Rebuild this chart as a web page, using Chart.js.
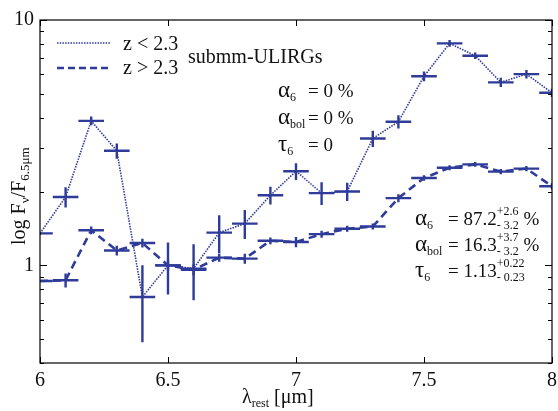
<!DOCTYPE html>
<html>
<head>
<meta charset="utf-8">
<script src="https://cdn.jsdelivr.net/npm/chart.js@4.4.1/dist/chart.umd.min.js"></script>
<style>
  html, body { margin: 0; padding: 0; background: #fff; }
</style>
</head>
<body>
<canvas id="chart" width="558" height="411"></canvas>
<script>
// wavelength bins (micron)
const wavelengths = [6.0, 6.1, 6.2, 6.3, 6.4, 6.5, 6.6, 6.7, 6.8, 6.9, 7.0, 7.1, 7.2, 7.3, 7.4, 7.5, 7.6, 7.7, 7.8, 7.9, 8.0];
// z < 2.3 (dotted)
const lowZ    = [1.35, 1.90, 3.88, 2.93, 0.743, 1.00, 0.97, 1.36, 1.48, 1.93, 2.42, 1.97, 2.00, 3.29, 3.85, 5.90, 8.03, 7.15, 5.57, 6.02, 5.05];
const lowZErr = [0.02, 0.18, 0.16, 0.21, 0.257, 0.24, 0.25, 0.24, 0.20, 0.16, 0.19, 0.21, 0.17, 0.25, 0.24, 0.27, 0.25, 0.22, 0.24, 0.24, 0.20];
// z > 2.3 (dashed)
const highZ    = [0.863, 0.87, 1.39, 1.15, 1.233, 1.00, 0.96, 1.075, 1.065, 1.26, 1.245, 1.34, 1.41, 1.44, 1.88, 2.27, 2.50, 2.58, 2.41, 2.48, 2.10];
const highZErr = [0.01, 0.057, 0.05, 0.053, 0.05, 0.05, 0.05, 0.04, 0.05, 0.04, 0.06, 0.045, 0.04, 0.04, 0.07, 0.06, 0.06, 0.06, 0.06, 0.06, 0.06];
const binHalfWidth = 0.05;

const xTicks = [6, 6.5, 7, 7.5, 8];
const yTicks = [0.4, 0.5, 0.6, 0.7, 0.8, 0.9, 1, 2, 3, 4, 5, 6, 7, 8, 9, 10];
const yLabelled = [1, 10];

const blue = '#2e3b98';
const serif = '"Liberation Serif", "DejaVu Serif", serif';

function toPoints(ys) {
  return wavelengths.map((x, i) => ({ x: x, y: ys[i] }));
}

// draw a run of text pieces: {t, s, dy} or a stacked sup/sub pair {sup, sub}
function drawRich(ctx, x, y, parts) {
  parts.forEach(p => {
    if (p.at !== undefined) x = p.at;
    if (p.sup !== undefined) {
      ctx.font = '12px ' + serif;
      ctx.fillText(p.sup, x, y - 10);
      ctx.fillText(p.sub, x, y + 4);
      x += Math.max(ctx.measureText(p.sup).width, ctx.measureText(p.sub).width);
    } else {
      ctx.font = (p.s || 19) + 'px ' + serif;
      ctx.fillText(p.t, x, y + (p.dy || 0));
      x += ctx.measureText(p.t).width;
    }
  });
  return x;
}

const decorations = {
  id: 'decorations',
  afterDatasetsDraw(chart) {
    const ctx = chart.ctx;
    const xs = chart.scales.x, ys = chart.scales.y;
    const series = [[lowZ, lowZErr], [highZ, highZErr]];
    ctx.save();
    ctx.strokeStyle = blue;
    ctx.lineWidth = 2.4;
    const a = chart.chartArea;
    ctx.beginPath();
    ctx.rect(a.left, a.top, a.right - a.left, a.bottom - a.top);
    ctx.clip();
    series.forEach(([vals, errs]) => {
      vals.forEach((v, i) => {
        const w = wavelengths[i];
        const px = xs.getPixelForValue(w);
        const py = ys.getPixelForValue(v);
        ctx.beginPath();
        ctx.moveTo(xs.getPixelForValue(w - binHalfWidth), py);
        ctx.lineTo(xs.getPixelForValue(w + binHalfWidth), py);
        ctx.moveTo(px, ys.getPixelForValue(v + errs[i]));
        ctx.lineTo(px, ys.getPixelForValue(Math.max(v - errs[i], 0.01)));
        ctx.stroke();
      });
    });
    ctx.restore();
  },
  afterDraw(chart) {
    const ctx = chart.ctx;
    const a = chart.chartArea;
    const xs = chart.scales.x, ys = chart.scales.y;
    ctx.save();
    // frame
    ctx.strokeStyle = '#000';
    ctx.lineWidth = 1.2;
    ctx.strokeRect(a.left, a.top, a.right - a.left, a.bottom - a.top);
    // inward ticks
    ctx.lineWidth = 1;
    ctx.beginPath();
    xTicks.forEach(v => {
      const px = Math.round(xs.getPixelForValue(v)) + 0.5;
      ctx.moveTo(px, a.bottom); ctx.lineTo(px, a.bottom - 6);
      ctx.moveTo(px, a.top); ctx.lineTo(px, a.top + 6);
    });
    yTicks.forEach(v => {
      const py = Math.round(ys.getPixelForValue(v)) + 0.5;
      const len = yLabelled.includes(v) ? 7 : 4;
      ctx.moveTo(a.left, py); ctx.lineTo(a.left + len, py);
      ctx.moveTo(a.right, py); ctx.lineTo(a.right - len, py);
    });
    ctx.stroke();

    // legend
    ctx.strokeStyle = blue;
    ctx.lineWidth = 1.6;
    ctx.setLineDash([1.5, 1.2]);
    ctx.beginPath(); ctx.moveTo(57, 43); ctx.lineTo(110, 43); ctx.stroke();
    ctx.lineWidth = 2.6;
    ctx.setLineDash([7, 4]);
    ctx.beginPath(); ctx.moveTo(57, 68); ctx.lineTo(110, 68); ctx.stroke();
    ctx.setLineDash([]);

    ctx.fillStyle = '#111';
    ctx.textBaseline = 'alphabetic';
    ctx.textAlign = 'left';
    ctx.font = '20px ' + serif;
    ctx.fillText('z < 2.3', 123, 50);
    ctx.fillText('z > 2.3', 123, 74);
    ctx.fillText('submm-ULIRGs', 188, 63);

    // parameters, upper block
    drawRich(ctx, 278, 97, [{ t: 'α', s: 23 }, { t: '6', s: 12, dy: 4 }, { at: 308, t: '= 0 %' }]);
    drawRich(ctx, 278, 124, [{ t: 'α', s: 23 }, { t: 'bol', s: 12, dy: 4 }, { at: 308, t: '= 0 %' }]);
    drawRich(ctx, 278, 151, [{ t: 'τ', s: 23 }, { t: '6', s: 12, dy: 4 }, { at: 308, t: '= 0' }]);

    // parameters, lower block
    drawRich(ctx, 415, 225, [{ t: 'α', s: 23 }, { t: '6', s: 12, dy: 4 }, { at: 448, t: '= 87.2' }, { sup: '+2.6', sub: '- 3.2' }, { t: ' %' }]);
    drawRich(ctx, 415, 251, [{ t: 'α', s: 23 }, { t: 'bol', s: 12, dy: 4 }, { at: 448, t: '= 16.3' }, { sup: '+3.7', sub: '- 3.2' }, { t: ' %' }]);
    drawRich(ctx, 415, 277, [{ t: 'τ', s: 23 }, { t: '6', s: 12, dy: 4 }, { at: 448, t: '= 1.13' }, { sup: '+0.22', sub: '- 0.23' }]);

    // axis titles
    drawRich(ctx, 242, 403, [{ t: 'λ', s: 20 }, { t: 'rest', s: 12, dy: 4 }, { t: ' [μm]', s: 20 }]);

    ctx.translate(25, 245);
    ctx.rotate(-Math.PI / 2);
    drawRich(ctx, 0, 0, [{ t: 'log F', s: 20 }, { t: 'ν', s: 13, dy: 4 }, { t: '/F', s: 20 }, { t: '6.5μm', s: 13, dy: 4 }]);
    ctx.restore();
  }
};

const ctx = document.getElementById('chart').getContext('2d');
new Chart(ctx, {
  type: 'line',
  data: {
    datasets: [
      {
        label: 'z < 2.3',
        data: toPoints(lowZ),
        borderColor: blue,
        borderWidth: 1.6,
        borderDash: [1.5, 1.2],
        pointRadius: 0,
        tension: 0
      },
      {
        label: 'z > 2.3',
        data: toPoints(highZ),
        borderColor: blue,
        borderWidth: 2.6,
        borderDash: [8, 5],
        pointRadius: 0,
        tension: 0
      }
    ]
  },
  options: {
    responsive: false,
    animation: false,
    devicePixelRatio: 1,
    layout: { padding: { top: 20, right: 6, left: 0, bottom: 0 } },
    plugins: { legend: { display: false }, tooltip: { enabled: false } },
    scales: {
      x: {
        type: 'linear',
        min: 6,
        max: 8,
        afterBuildTicks: scale => { scale.ticks = xTicks.map(v => ({ value: v })); },
        afterFit: scale => { scale.height = 48; scale.paddingLeft = 0; scale.paddingRight = 0; },
        grid: { display: false, drawTicks: false },
        border: { display: false },
        ticks: {
          color: '#111',
          font: { family: serif, size: 20 },
          padding: 6,
          maxRotation: 0,
          autoSkip: false,
          callback: v => String(v)
        }
      },
      y: {
        type: 'logarithmic',
        min: 0.4,
        max: 10,
        afterBuildTicks: scale => { scale.ticks = yTicks.map(v => ({ value: v })); },
        afterFit: scale => { scale.width = 40; scale.paddingTop = 0; scale.paddingBottom = 0; },
        grid: { display: false, drawTicks: false },
        border: { display: false },
        ticks: {
          color: '#111',
          font: { family: serif, size: 20 },
          padding: 6,
          autoSkip: false,
          callback: v => yLabelled.includes(v) ? String(v) : ''
        }
      }
    }
  },
  plugins: [decorations]
});
</script>
</body>
</html>
